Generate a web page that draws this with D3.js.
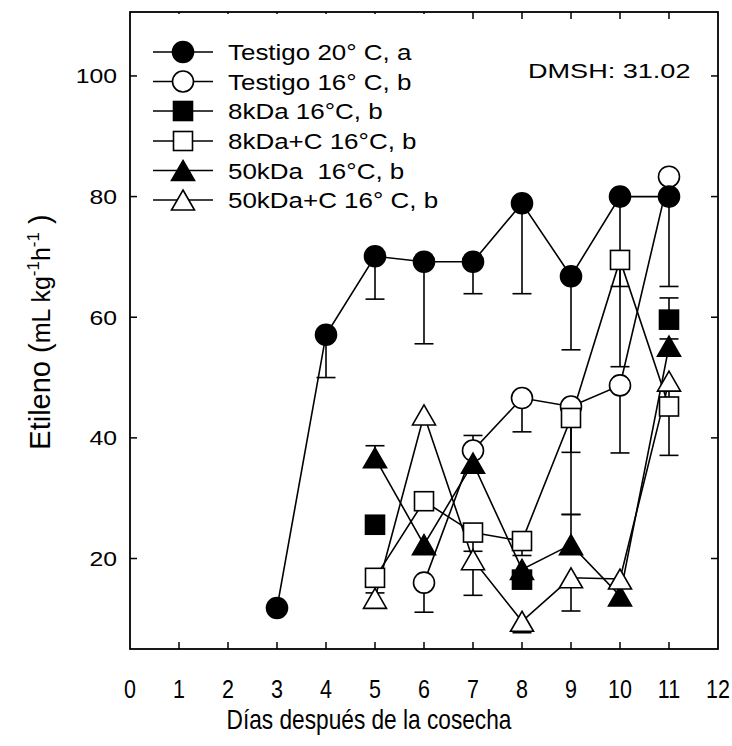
<!DOCTYPE html>
<html>
<head>
<meta charset="utf-8">
<script src="https://cdn.jsdelivr.net/npm/d3@7"></script>
<style>
  html, body { margin: 0; padding: 0; background: #fff; }
  svg { display: block; }
  text { font-family: "Liberation Sans", Arial, Helvetica, sans-serif; fill: #000; }
</style>
</head>
<body>
<svg id="chart" width="732" height="746"></svg>
<script>
// Sampling days (days after harvest)
const days = [3, 4, 5, 6, 7, 8, 9, 10, 11];

// Ethylene production per treatment (mL kg-1 h-1); null = not measured
const testigo20 = [11.8, 57.1, 70.1, 69.2, 69.2, 78.9, 66.8, 80.0, 80.0];
const testigo16 = [null, null, null, 16.0, 37.9, 46.6, 45.2, 48.7, 83.3];
const kda8      = [null, null, 25.6, null, null, 16.5, null, null, 59.6];
const kda8C     = [null, null, 16.8, 29.5, 24.3, 22.9, 43.3, 69.5, 45.2];
const kda50     = [null, null, 36.7, 22.3, 35.8, 18.2, 22.3, 13.8, 55.2];
const kda50C    = [null, null, 13.4, 43.8, 19.8, 9.6, 16.8, 16.6, 49.4];

// Standard errors drawn below (errDown) or above (errUp) each mean
const testigo20ErrDown = [null, 7.1, 7.1, 13.6, 5.3, 15.0, 12.2, 28.2, 14.9];
const testigo16ErrDown = [null, null, null, 4.9, null, 5.6, 7.6, 11.2, null];
const testigo16ErrUp   = [null, null, null, null, 2.5, null, null, null, null];
const kda8ErrUp        = [null, null, null, null, null, null, null, null, 3.6];
const kda8CErrDown     = [null, null, 2.5, null, 3.1, 2.4, 16.0, 4.4, 8.1];
const kda50ErrUp       = [null, null, 2.0, null, null, null, 5.0, null, 1.2];
const kda50CErrDown    = [null, null, null, null, 5.9, 1.9, 5.5, null, 4.0];

const legendLabels = [
  "Testigo 20° C, a",
  "Testigo 16° C, b",
  "8kDa 16°C, b",
  "8kDa+C 16°C, b",
  "50kDa  16°C, b",
  "50kDa+C 16° C, b"
];
const xTicks = [0, 1, 2, 3, 4, 5, 6, 7, 8, 9, 10, 11, 12];
const yTicks = [20, 40, 60, 80, 100];
const dmshLabel = "DMSH: 31.02";

const series = [
  { name: legendLabels[0], values: testigo20, errDown: testigo20ErrDown, errUp: null, symbol: "circle", filled: true, line: true },
  { name: legendLabels[1], values: testigo16, errDown: testigo16ErrDown, errUp: testigo16ErrUp, symbol: "circle", filled: false, line: true },
  { name: legendLabels[2], values: kda8, errDown: null, errUp: kda8ErrUp, symbol: "square", filled: true, line: false },
  { name: legendLabels[3], values: kda8C, errDown: kda8CErrDown, errUp: null, symbol: "square", filled: false, line: true },
  { name: legendLabels[4], values: kda50, errDown: null, errUp: kda50ErrUp, symbol: "triangle", filled: true, line: true },
  { name: legendLabels[5], values: kda50C, errDown: kda50CErrDown, errUp: null, symbol: "triangle", filled: false, line: true }
];

const svg = d3.select("#chart");
const plot = { left: 130, right: 718, top: 12, bottom: 649 };

const x = d3.scaleLinear().domain([0, 12]).range([plot.left, plot.right]);
const y = d3.scaleLinear().domain([5, 110.6]).range([plot.bottom, plot.top]);

const LW = 1.6;
const capHalf = 9.5;

// Text with an optional horizontal stretch
function stretchedText(g, tx, ty, str, size, sx, anchor) {
  return g.append("text")
    .attr("transform", `translate(${tx},${ty}) scale(${sx},1)`)
    .attr("text-anchor", anchor || "start")
    .attr("font-size", size)
    .style("white-space", "pre")
    .text(str);
}

// Marker shapes
function drawSymbol(g, cx, cy, s) {
  const fill = s.filled ? "#000" : "#fff";
  if (s.symbol === "circle") {
    g.append("circle").attr("cx", cx).attr("cy", cy).attr("r", 10.5)
      .attr("fill", fill).attr("stroke", "#000").attr("stroke-width", LW);
  } else if (s.symbol === "square") {
    const h = 9.5;
    g.append("rect").attr("x", cx - h).attr("y", cy - h).attr("width", 2 * h).attr("height", 2 * h)
      .attr("fill", fill).attr("stroke", "#000").attr("stroke-width", LW);
  } else {
    const w = 11.5, hh = 10;
    g.append("path")
      .attr("d", `M${cx},${cy - hh}L${cx + w},${cy + hh}L${cx - w},${cy + hh}Z`)
      .attr("fill", fill).attr("stroke", "#000").attr("stroke-width", LW)
      .attr("stroke-linejoin", "miter");
  }
}

// Frame
svg.append("rect")
  .attr("x", plot.left).attr("y", plot.top)
  .attr("width", plot.right - plot.left).attr("height", plot.bottom - plot.top)
  .attr("fill", "none").attr("stroke", "#000").attr("stroke-width", 1.8);

// Inward ticks on all four sides
const tickLen = 7;
const ticks = svg.append("g").attr("stroke", "#000").attr("stroke-width", 1.5);
xTicks.slice(1, -1).forEach(t => {
  ticks.append("line").attr("x1", x(t)).attr("x2", x(t)).attr("y1", plot.bottom).attr("y2", plot.bottom - tickLen);
  ticks.append("line").attr("x1", x(t)).attr("x2", x(t)).attr("y1", plot.top).attr("y2", plot.top + tickLen);
});
yTicks.forEach(t => {
  ticks.append("line").attr("x1", plot.left).attr("x2", plot.left + tickLen).attr("y1", y(t)).attr("y2", y(t));
  ticks.append("line").attr("x1", plot.right).attr("x2", plot.right - tickLen).attr("y1", y(t)).attr("y2", y(t));
});

// Tick labels
const labels = svg.append("g");
yTicks.forEach(t => stretchedText(labels, 117, y(t) + 7.5, String(t), 21, 1.18, "end"));
xTicks.forEach(t => stretchedText(labels, x(t), 698, String(t), 25, 0.86, "middle"));

// Axis titles
stretchedText(svg, 369, 729, "Días después de la cosecha", 28, 0.81, "middle");

const yTitle = svg.append("text")
  .attr("transform", "translate(50,332) rotate(-90)")
  .attr("text-anchor", "middle")
  .attr("font-size", 29);
yTitle.append("tspan").text("Etileno (");
yTitle.append("tspan").attr("font-size", 25).text("mL kg");
yTitle.append("tspan").attr("font-size", 17).attr("dy", -11).text("-1");
yTitle.append("tspan").attr("font-size", 25).attr("dy", 11).text("h");
yTitle.append("tspan").attr("font-size", 17).attr("dy", -11).text("-1");
yTitle.append("tspan").attr("dy", 11).style("white-space", "pre").text(" )");

// Connecting lines and error bars
const lineGen = d3.line()
  .defined(d => d.v !== null)
  .x(d => x(d.day))
  .y(d => y(d.v));

const dataLayer = svg.append("g");
series.forEach(s => {
  const pts = days.map((day, i) => ({ day, v: s.values[i] }));
  if (s.line) {
    dataLayer.append("path").datum(pts)
      .attr("d", lineGen)
      .attr("fill", "none").attr("stroke", "#000").attr("stroke-width", LW);
  }
  days.forEach((day, i) => {
    const v = s.values[i];
    if (v === null) return;
    [[s.errDown, -1], [s.errUp, 1]].forEach(([arr, dir]) => {
      if (!arr || arr[i] === null) return;
      const end = v + dir * arr[i];
      dataLayer.append("line")
        .attr("x1", x(day)).attr("x2", x(day)).attr("y1", y(v)).attr("y2", y(end))
        .attr("stroke", "#000").attr("stroke-width", LW);
      dataLayer.append("line")
        .attr("x1", x(day) - capHalf).attr("x2", x(day) + capHalf).attr("y1", y(end)).attr("y2", y(end))
        .attr("stroke", "#000").attr("stroke-width", LW);
    });
  });
});

// Markers (open circles go underneath the filled ones)
const markerOrder = [1, 0, 2, 3, 4, 5];
const markerLayer = svg.append("g");
markerOrder.forEach(k => {
  const s = series[k];
  days.forEach((day, i) => {
    if (s.values[i] !== null) drawSymbol(markerLayer, x(day), y(s.values[i]), s);
  });
});

// Legend
const legend = svg.append("g");
legend.append("rect").attr("x", 138).attr("y", 14).attr("width", 325).attr("height", 205).attr("fill", "#fff");
const legendRows = [52, 81.5, 111, 141, 170.5, 200];
series.forEach((s, i) => {
  const ly = legendRows[i];
  legend.append("line").attr("x1", 153).attr("x2", 213).attr("y1", ly).attr("y2", ly)
    .attr("stroke", "#000").attr("stroke-width", LW);
  drawSymbol(legend, 183, ly, s);
  stretchedText(legend, 228, ly + 8, s.name, 22, 1.18, "start");
});

// Least significant difference note
stretchedText(svg, 528, 78, dmshLabel, 21, 1.29, "start");
</script>
</body>
</html>
